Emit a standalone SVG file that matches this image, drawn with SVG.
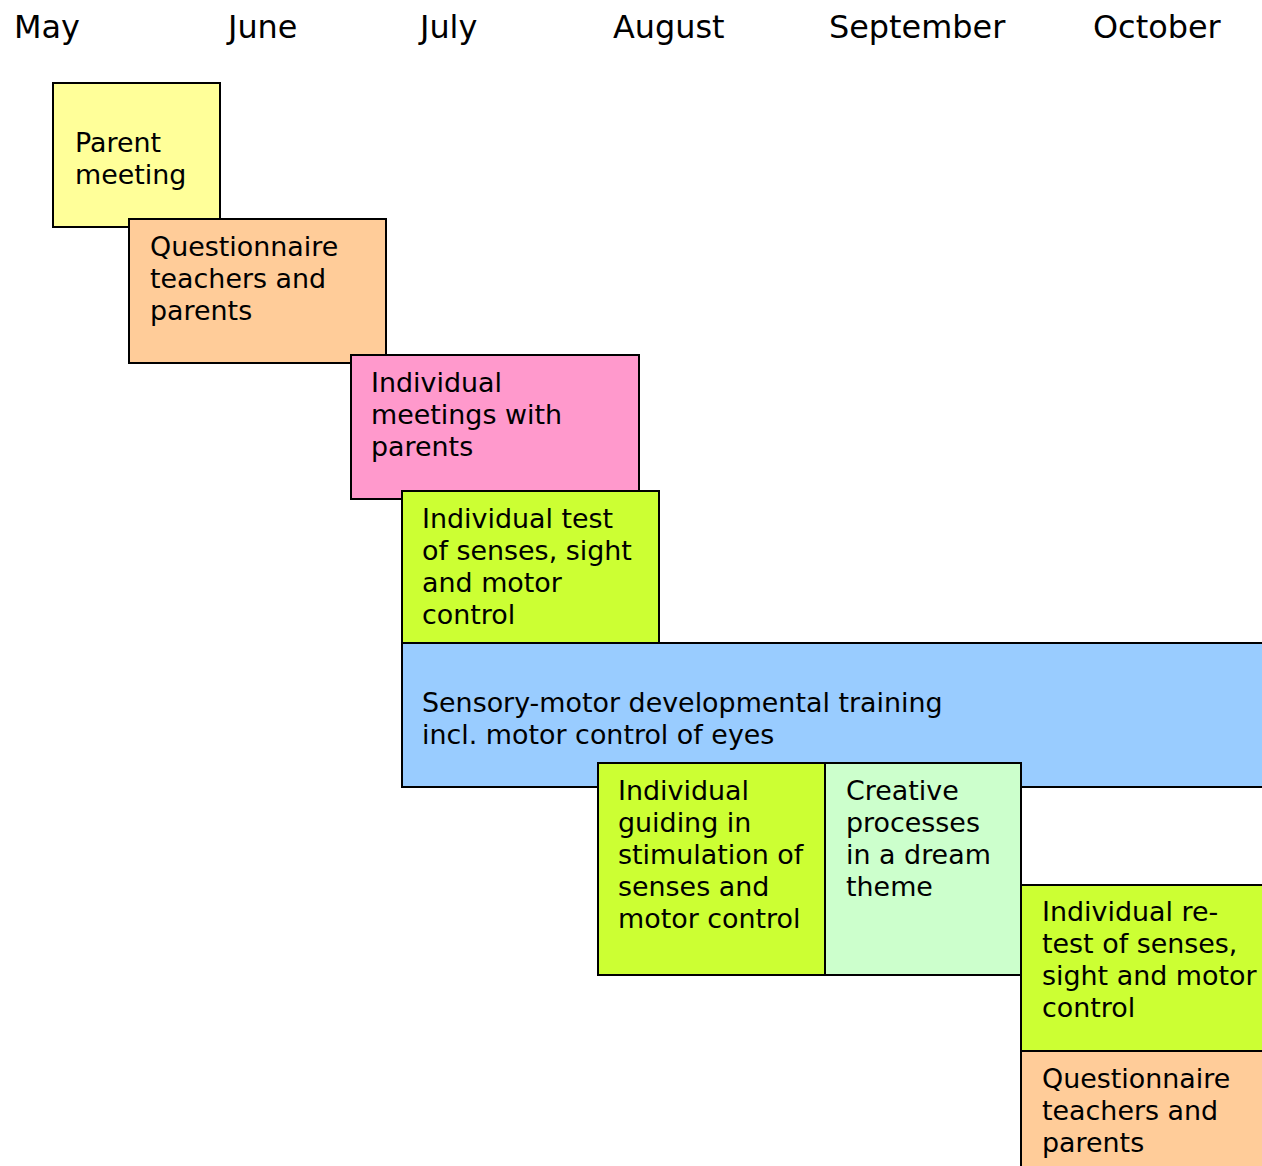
<svg xmlns="http://www.w3.org/2000/svg" width="1262" height="1166" viewBox="0 0 1262 1166">
<style>
.box{stroke:#000;stroke-width:2}
.t{font-family:"DejaVu Sans",Verdana,sans-serif;font-size:26.9px;fill:#000}
.m{font-family:"DejaVu Sans",Verdana,sans-serif;font-size:31.9px;fill:#000}
</style>
<rect width="1262" height="1166" fill="#fff"/>
<g id="months">
<text class="m" x="14" y="38">May</text>
<text class="m" x="228" y="38">June</text>
<text class="m" x="420" y="38">July</text>
<text class="m" x="613" y="38">August</text>
<text class="m" x="829" y="38">September</text>
<text class="m" x="1093" y="38">October</text>
</g>
<g id="parent-meeting">
<rect class="box" x="53" y="83" width="167" height="144" fill="#FFFF99"/>
<text class="t" x="75" y="152">Parent</text>
<text class="t" x="75" y="184">meeting</text>
</g>
<g id="questionnaire-1">
<rect class="box" x="129" y="219" width="257" height="144" fill="#FFCC99"/>
<text class="t" x="150" y="256">Questionnaire</text>
<text class="t" x="150" y="288">teachers and</text>
<text class="t" x="150" y="320">parents</text>
</g>
<g id="individual-meetings">
<rect class="box" x="351" y="355" width="288" height="144" fill="#FF99CC"/>
<text class="t" x="371" y="392">Individual</text>
<text class="t" x="371" y="424">meetings with</text>
<text class="t" x="371" y="456">parents</text>
</g>
<g id="individual-test">
<rect class="box" x="402" y="491" width="257" height="152" fill="#CCFF33"/>
<text class="t" x="422" y="528">Individual test</text>
<text class="t" x="422" y="560">of senses, sight</text>
<text class="t" x="422" y="592">and motor</text>
<text class="t" x="422" y="624">control</text>
</g>
<g id="sensory-motor">
<rect class="box" x="402" y="643" width="870" height="144" fill="#99CCFF"/>
<text class="t" x="422" y="712">Sensory-motor developmental training</text>
<text class="t" x="422" y="744">incl. motor control of eyes</text>
</g>
<g id="individual-guiding">
<rect class="box" x="598" y="763" width="227" height="212" fill="#CCFF33"/>
<text class="t" x="618" y="800">Individual</text>
<text class="t" x="618" y="832">guiding in</text>
<text class="t" x="618" y="864">stimulation of</text>
<text class="t" x="618" y="896">senses and</text>
<text class="t" x="618" y="928">motor control</text>
</g>
<g id="creative-processes">
<rect class="box" x="825" y="763" width="196" height="212" fill="#CCFFCC"/>
<text class="t" x="846" y="800">Creative</text>
<text class="t" x="846" y="832">processes</text>
<text class="t" x="846" y="864">in a dream</text>
<text class="t" x="846" y="896">theme</text>
</g>
<g id="individual-retest">
<rect class="box" x="1021" y="885" width="251" height="166" fill="#CCFF33"/>
<text class="t" x="1042" y="921">Individual re-</text>
<text class="t" x="1042" y="953">test of senses,</text>
<text class="t" x="1042" y="985">sight and motor</text>
<text class="t" x="1042" y="1017">control</text>
</g>
<g id="questionnaire-2">
<rect class="box" x="1021" y="1051" width="251" height="130" fill="#FFCC99"/>
<text class="t" x="1042" y="1088">Questionnaire</text>
<text class="t" x="1042" y="1120">teachers and</text>
<text class="t" x="1042" y="1152">parents</text>
</g>
<g id="connectors"></g>
</svg>
